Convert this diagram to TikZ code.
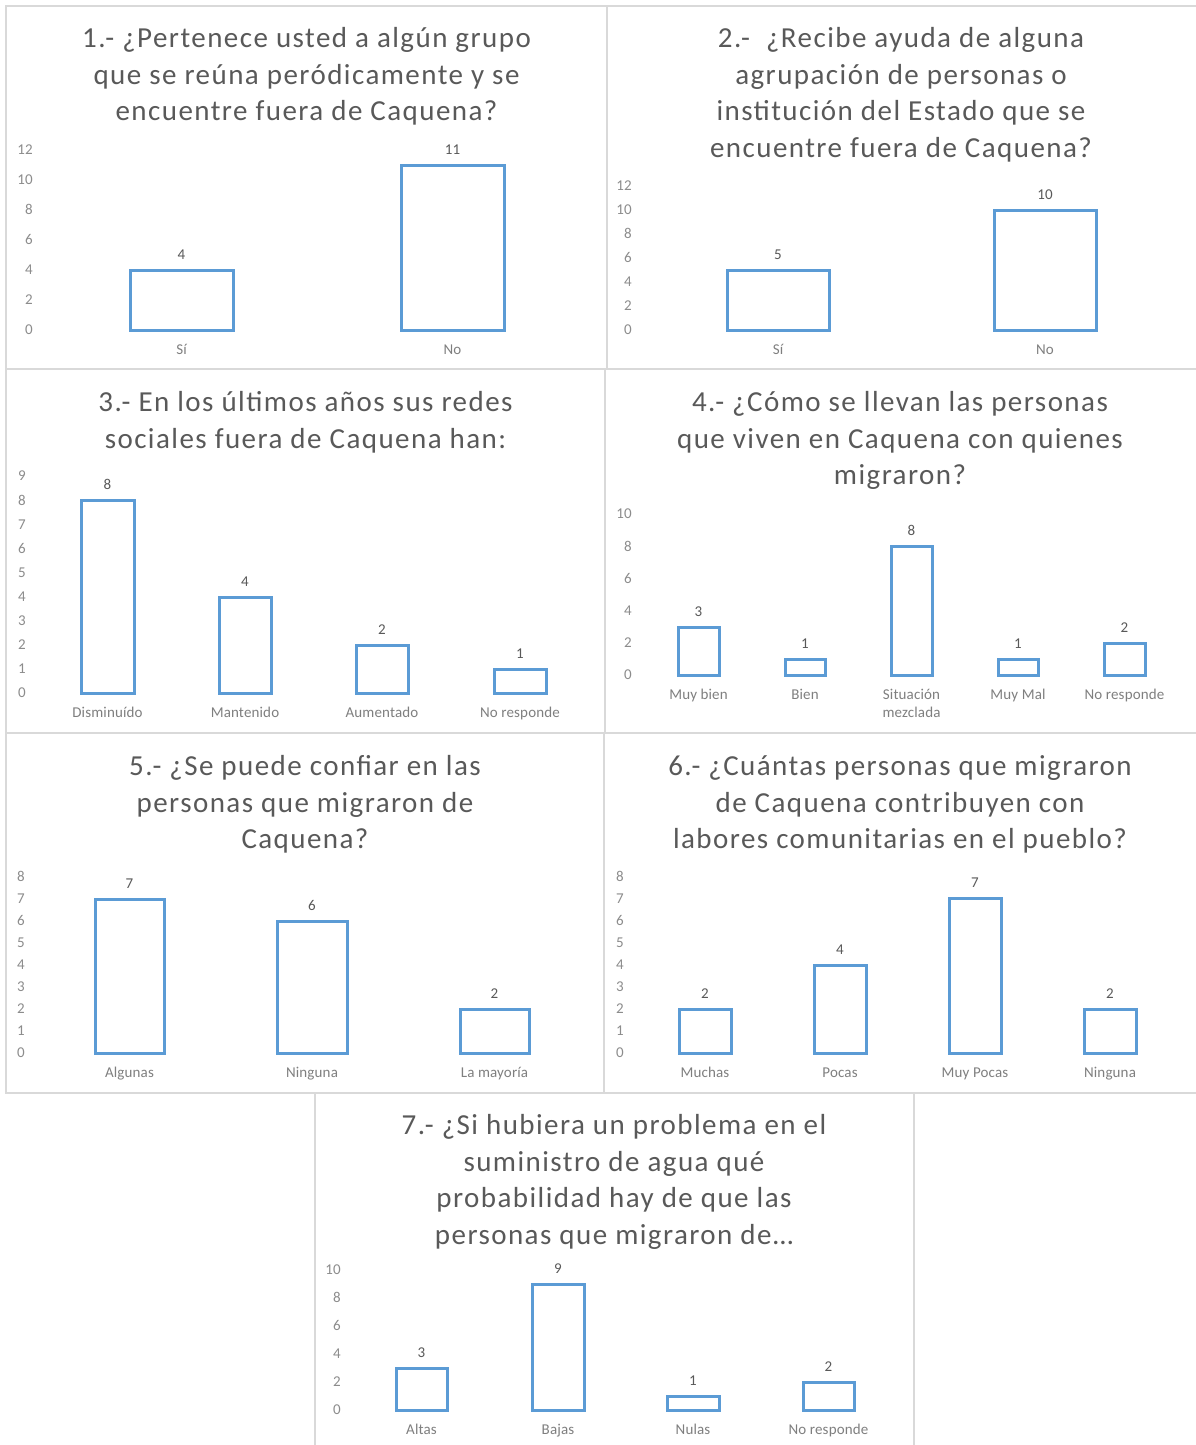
\documentclass[tikz,border=0pt]{standalone}
\usepackage{fontspec}
\setmainfont{Carlito}
\newfontfamily\headfont[LetterSpace=5]{Carlito}
\newfontfamily\labelfont[LetterSpace=1]{Carlito}

\definecolor{panelgray}{HTML}{D9D9D9}
\definecolor{barblue}{HTML}{5B9BD5}
\definecolor{headgray}{HTML}{595959}
\definecolor{tickgray}{HTML}{8C8C8C}
\definecolor{catgray}{HTML}{7F7F7F}
\definecolor{datagray}{HTML}{595959}

% stacked lines whose reference point is the first baseline
\newcommand\toplines[1]{\begin{tabular}[t]{@{}c@{}}#1\end{tabular}}

\tikzset{
  panel/.style={draw=panelgray, line width=1.8pt},
  barbox/.style={draw=barblue, line width=3pt},
  ticklbl/.style={anchor=base east, inner sep=0pt, text=tickgray,
    font=\labelfont\fontsize{15}{18}\selectfont},
  datalbl/.style={anchor=base, inner sep=0pt, text=datagray,
    font=\labelfont\fontsize{15}{18}\selectfont},
  catlbl/.style={anchor=base, inner sep=0pt, text=catgray,
    font=\labelfont\fontsize{15}{18}\selectfont},
  headlbl/.style={anchor=base, inner sep=0pt, text=headgray,
    font=\headfont\fontsize{29}{36.6}\selectfont},
}

% bar: name, left x, right x, baseline y, top y, value, category
\newcommand\chartbar[7]{%
  \draw[barbox] (#2,#4) rectangle (#3,#5);
  \node[datalbl] (#1v) at ({(#2+#3)/2},{#5-11}) {#6};
  \node[catlbl] (#1c) at ({(#2+#3)/2},{#4+24}) {\toplines{#7}};
}
% value axis: prefix, right x, zero y, units per step, list of values
\newcommand\chartaxis[5]{%
  \foreach \v in {#5}
    \node[ticklbl] (#1t\v) at (#2,{#3-#4*\v+4.8}) {\v};
}
% chart heading: name, centre x, first baseline y, lines
\newcommand\charthead[4]{%
  \node[headlbl] (#1) at (#2,#3) {\toplines{#4}};
}

\begin{document}
\begin{tikzpicture}[x=1pt, y=-1pt]
\useasboundingbox (0,0) rectangle (1195,1445);
\fill[white] (0,0) rectangle (1195,1445);

% frames
\draw[panel] (6,6) rectangle (607,369);
\draw[panel] (607,6) rectangle (1199,369);
\draw[panel] (6,369) rectangle (605,733);
\draw[panel] (605,369) rectangle (1199,733);
\draw[panel] (6,733) rectangle (604,1093);
\draw[panel] (604,733) rectangle (1199,1093);
\draw[panel] (315,1093) rectangle (914,1449);

% 1
\charthead{h1}{306.5}{47.5}{1.- ¿Pertenece usted a algún grupo\\que se reúna peródicamente y se\\encuentre fuera de Caquena?}
\chartaxis{a}{33}{330}{15}{0,2,...,12}
\chartbar{a1}{130}{233}{330}{270}{4}{Sí}
\chartbar{a2}{401}{504}{330}{165}{11}{No}

% 2
\charthead{h2}{901}{47.5}{2.-\ \ ¿Recibe ayuda de alguna\\agrupación de personas o\\institución del Estado que se\\encuentre fuera de Caquena?}
\chartaxis{b}{632}{330}{12}{0,2,...,12}
\chartbar{b1}{727}{829}{330}{270}{5}{Sí}
\chartbar{b2}{994}{1096}{330}{210}{10}{No}

% 3
\charthead{h3}{305.5}{411.5}{3.- En los últimos años sus redes\\sociales fuera de Caquena han:}
\chartaxis{c}{26}{693}{24.1}{0,1,...,9}
\chartbar{c1}{81}{134}{693}{500}{8}{Disminuído}
\chartbar{c2}{219}{271}{693}{597}{4}{Mantenido}
\chartbar{c3}{356}{408}{693}{645}{2}{Aumentado}
\chartbar{c4}{494}{546}{693}{669}{1}{No responde}

% 4
\charthead{h4}{900}{411.5}{4.- ¿Cómo se llevan las personas\\que viven en Caquena con quienes\\migraron?}
\chartaxis{d}{632}{675}{16.1}{0,2,...,10}
\chartbar{d1}{678}{719}{675}{627}{3}{Muy bien}
\chartbar{d2}{785}{825}{675}{659}{1}{Bien}
\chartbar{d3}{891}{932}{675}{546}{8}{Situación\\mezclada}
\chartbar{d4}{998}{1038}{675}{659}{1}{Muy Mal}
\chartbar{d5}{1104}{1145}{675}{643}{2}{No responde}

% 5
\charthead{h5}{305}{775.5}{5.- ¿Se puede confiar en las\\personas que migraron de\\Caquena?}
\chartaxis{e}{25}{1053}{22}{0,1,...,8}
\chartbar{e1}{95}{164}{1053}{899}{7}{Algunas}
\chartbar{e2}{277}{347}{1053}{921}{6}{Ninguna}
\chartbar{e3}{460}{529}{1053}{1009}{2}{La mayoría}

% 6
\charthead{h6}{900}{775.5}{6.- ¿Cuántas personas que migraron\\de Caquena contribuyen con\\labores comunitarias en el pueblo?}
\chartaxis{f}{624}{1053}{22.1}{0,1,...,8}
\chartbar{f1}{679}{731}{1053}{1009}{2}{Muchas}
\chartbar{f2}{814}{866}{1053}{965}{4}{Pocas}
\chartbar{f3}{949}{1001}{1053}{898}{7}{Muy Pocas}
\chartbar{f4}{1084}{1136}{1053}{1009}{2}{Ninguna}

% 7
\charthead{h7}{614}{1134.5}{7.- ¿Si hubiera un problema en el\\suministro de agua qué\\probabilidad hay de que las\\personas que migraron de…}
\chartaxis{g}{341}{1410}{14}{0,2,...,10}
\chartbar{g1}{396}{447}{1410}{1368}{3}{Altas}
\chartbar{g2}{532}{584}{1410}{1284}{9}{Bajas}
\chartbar{g3}{667}{719}{1410}{1396}{1}{Nulas}
\chartbar{g4}{803}{854}{1410}{1382}{2}{No responde}
\end{tikzpicture}
\end{document}
